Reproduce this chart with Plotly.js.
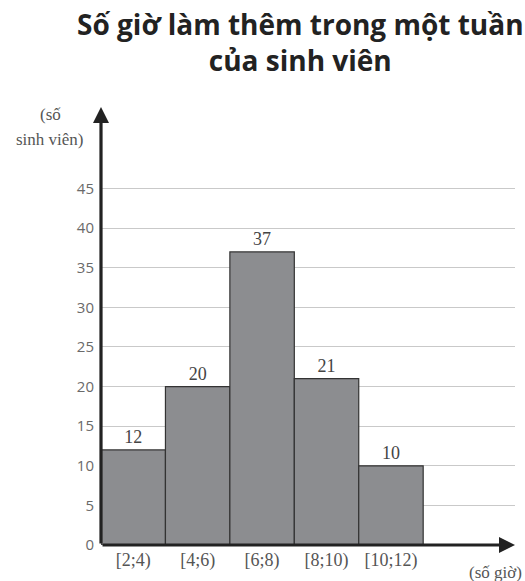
<!DOCTYPE html>
<html>
<head>
<meta charset="utf-8">
<script src="https://cdn.plot.ly/plotly-3.0.1.min.js"></script>
<style>html,body{margin:0;padding:0;background:#fff;}#chart{width:525px;height:581px;}</style>
</head>
<body>
<div id="chart"></div>
<script>
// Data
const binLower = [2, 4, 6, 8, 10];
const binUpper = [4, 6, 8, 10, 12];
const binLabels = ["[2;4)", "[4;6)", "[6;8)", "[8;10)", "[10;12)"];
const counts = [12, 20, 37, 21, 10];
const yTicks = [0, 5, 10, 15, 20, 25, 30, 35, 40, 45];

const centers = binLower.map((l, i) => (l + binUpper[i]) / 2);
const widths = binLower.map((l, i) => binUpper[i] - l);

const XMIN = 2, XMAX = 14.85, YMAX = 55.3;
const serif = 'Liberation Serif, Times New Roman, serif';

const trace = {
  type: 'bar',
  x: centers,
  y: counts,
  width: widths,
  marker: { color: '#8c8d90', line: { color: '#333333', width: 1.2 } },
  text: counts.map(String),
  textposition: 'outside',
  textfont: { family: serif, size: 18, color: '#444' },
  cliponaxis: false,
  hoverinfo: 'skip'
};

const layout = {
  width: 525, height: 581,
  margin: { l: 101, r: 10, t: 107, b: 36 },
  paper_bgcolor: '#fff', plot_bgcolor: '#fff',
  showlegend: false,
  bargap: 0,
  title: {
    text: 'Số giờ làm thêm trong một tuần<br>của sinh viên',
    font: { family: 'Open Sans, Noto Sans, sans-serif', size: 28, color: '#222', weight: 700 },
    x: 0.572, xanchor: 'center', y: 0.94, yanchor: 'top', yref: 'container'
  },
  xaxis: {
    range: [XMIN, XMAX],
    tickvals: centers,
    ticktext: binLabels,
    tickfont: { family: serif, size: 18, color: '#555' },
    showgrid: false, zeroline: false, showline: false, ticks: '',
    ticklabelstandoff: 2,
    fixedrange: true
  },
  yaxis: {
    range: [0, YMAX],
    tickvals: yTicks,
    ticktext: yTicks.map(String),
    tickfont: { family: 'Open Sans, sans-serif', size: 15, color: '#6a6a6a' },
    showgrid: true, gridcolor: '#c9c9c9', gridwidth: 1,
    zeroline: false, showline: false, ticks: '',
    ticklabelstandoff: 6,
    fixedrange: true
  },
  annotations: [
    { x: XMAX, y: 0, ax: XMIN, ay: 0, xref: 'x', yref: 'y', axref: 'x', ayref: 'y',
      showarrow: true, arrowhead: 2, arrowsize: 1, arrowwidth: 3.2, arrowcolor: '#222', text: '' },
    { x: XMIN, y: YMAX, ax: XMIN, ay: 0, xref: 'x', yref: 'y', axref: 'x', ayref: 'y',
      showarrow: true, arrowhead: 2, arrowsize: 1, arrowwidth: 3.2, arrowcolor: '#222', text: '' },
    { xref: 'paper', yref: 'paper', x: -0.123, y: 0.984, xanchor: 'center', yanchor: 'middle',
      showarrow: false, text: '(số',
      font: { family: serif, size: 17, color: '#555' } },
    { xref: 'paper', yref: 'paper', x: -0.123, y: 0.925, xanchor: 'center', yanchor: 'middle',
      showarrow: false, text: 'sinh viên)',
      font: { family: serif, size: 17, color: '#555' } },
    { xref: 'paper', yref: 'paper', x: 1.022, y: -0.062, xanchor: 'right', yanchor: 'middle',
      showarrow: false, text: '(số giờ)',
      font: { family: serif, size: 17, color: '#555' } }
  ]
};

Plotly.newPlot('chart', [trace], layout, { staticPlot: true, displayModeBar: false });
</script>
</body>
</html>
